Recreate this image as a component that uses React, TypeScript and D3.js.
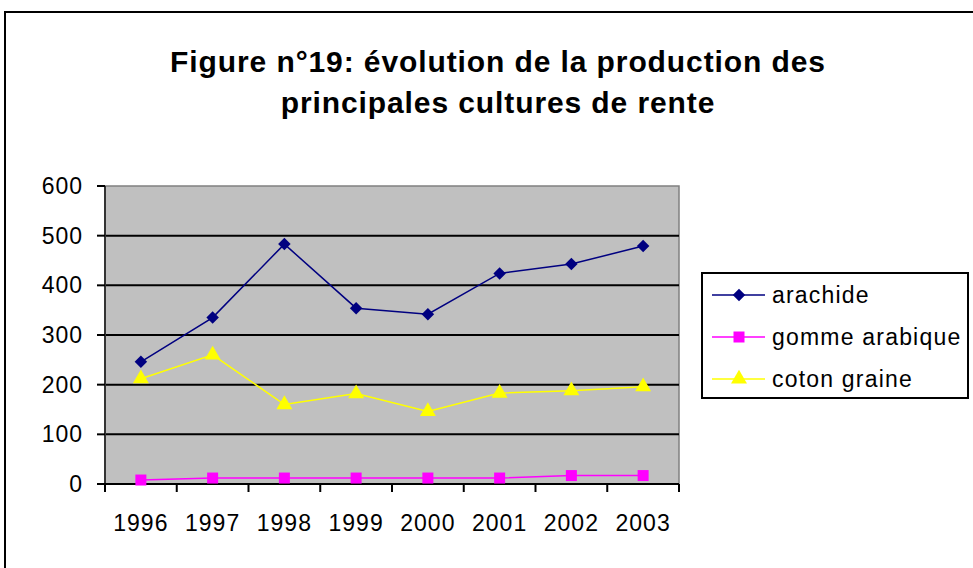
import React from 'react';
import * as d3 from 'd3';

const years = ['1996', '1997', '1998', '1999', '2000', '2001', '2002', '2003'];
const arachide = [246, 335, 483, 354, 342, 424, 443, 479];
const gomme = [8, 12, 12, 12, 12, 12, 17, 17];
const coton = [212, 260, 160, 182, 146, 183, 188, 196];
const yTicks = [0, 100, 200, 300, 400, 500, 600];

const series = [
  { name: 'arachide', values: arachide, color: '#000080', marker: 'diamond' },
  { name: 'gomme arabique', values: gomme, color: '#FF00FF', marker: 'square' },
  { name: 'coton graine', values: coton, color: '#FFFF00', marker: 'triangle' },
];

const font = '"Liberation Sans", Arial, sans-serif';

const App = () => {
  const left = 105;
  const right = 679;
  const top = 186;
  const bottom = 484;

  const x = d3.scaleBand().domain(years).range([left, right]);
  const y = d3.scaleLinear().domain([0, 600]).range([bottom, top]);
  const line = d3
    .line<number>()
    .x((d, i) => x(years[i])! + x.bandwidth() / 2)
    .y((d) => y(d));

  // diamond = square turned by 45deg (excel style, not d3's tall diamond)
  const symbolFor = (m: string) => {
    if (m === 'diamond') return d3.symbol(d3.symbolSquare, 78)();
    if (m === 'square') return d3.symbol(d3.symbolSquare, 121)();
    return d3.symbol(d3.symbolTriangle, 110)();
  };
  const rot = (m: string) => (m === 'diamond' ? ' rotate(45)' : '');

  const legendX = 702;
  const legendY = 273;
  const rowGap = 42;

  return (
    <svg
      width={973}
      height={568}
      style={{ position: 'absolute', left: 0, top: 0, background: '#fff' }}
    >
      {/* outer chart border */}
      <rect x={5} y={12} width={990} height={600} fill="#fff" stroke="#000" strokeWidth={2} />

      <text x={498} y={72} textAnchor="middle" fontFamily={font} fontWeight="bold" fontSize={30} letterSpacing={0.9} fill="#000">
        Figure n°19: évolution de la production des
      </text>
      <text x={498} y={113} textAnchor="middle" fontFamily={font} fontWeight="bold" fontSize={30} letterSpacing={0.9} fill="#000">
        principales cultures de rente
      </text>

      {/* plot area */}
      <rect x={left} y={top} width={right - left} height={bottom - top} fill="#C0C0C0" stroke="#808080" strokeWidth={1.5} />
      {yTicks.filter((t) => t > 0 && t < 600).map((t) => (
        <line key={t} x1={left} x2={right} y1={y(t)} y2={y(t)} stroke="#000" strokeWidth={2} />
      ))}

      {/* y axis */}
      <line x1={left} x2={left} y1={top} y2={bottom} stroke="#333" strokeWidth={2} />
      {yTicks.map((t) => (
        <g key={t}>
          <line x1={left - 8} x2={left} y1={y(t)} y2={y(t)} stroke="#000" strokeWidth={2} />
          <text x={83} y={y(t) + 8} textAnchor="end" fontFamily={font} fontSize={23} letterSpacing={1} fill="#000">
            {t}
          </text>
        </g>
      ))}

      {/* x axis */}
      <line x1={left} x2={right} y1={bottom} y2={bottom} stroke="#000" strokeWidth={2} />
      {[...years.map((yr) => x(yr)!), right].map((px, i) => (
        <line key={i} x1={px} x2={px} y1={bottom} y2={bottom + 8} stroke="#000" strokeWidth={2} />
      ))}
      {years.map((yr) => (
        <text key={yr} x={x(yr)! + x.bandwidth() / 2} y={531} textAnchor="middle" fontFamily={font} fontSize={23} letterSpacing={1} fill="#000">
          {yr}
        </text>
      ))}

      {/* series */}
      {series.map((s) => (
        <g key={s.name}>
          <path d={line(s.values)!} fill="none" stroke={s.color} strokeWidth={1.5} />
          {s.values.map((v, i) => (
            <path
              key={i}
              d={symbolFor(s.marker)!}
              transform={`translate(${x(years[i])! + x.bandwidth() / 2},${y(v)})${rot(s.marker)}`}
              fill={s.color}
            />
          ))}
        </g>
      ))}

      {/* legend */}
      <rect x={legendX} y={legendY} width={266} height={125} fill="#fff" stroke="#000" strokeWidth={2} />
      {series.map((s, i) => {
        const cy = legendY + 22 + i * rowGap;
        return (
          <g key={s.name}>
            <line x1={712} x2={765} y1={cy} y2={cy} stroke={s.color} strokeWidth={1.5} />
            <path d={symbolFor(s.marker)!} transform={`translate(739,${cy})${rot(s.marker)}`} fill={s.color} />
            <text x={772} y={cy + 8} fontFamily={font} fontSize={23} letterSpacing={1.2} fill="#000">
              {s.name}
            </text>
          </g>
        );
      })}
    </svg>
  );
};

export default App;
